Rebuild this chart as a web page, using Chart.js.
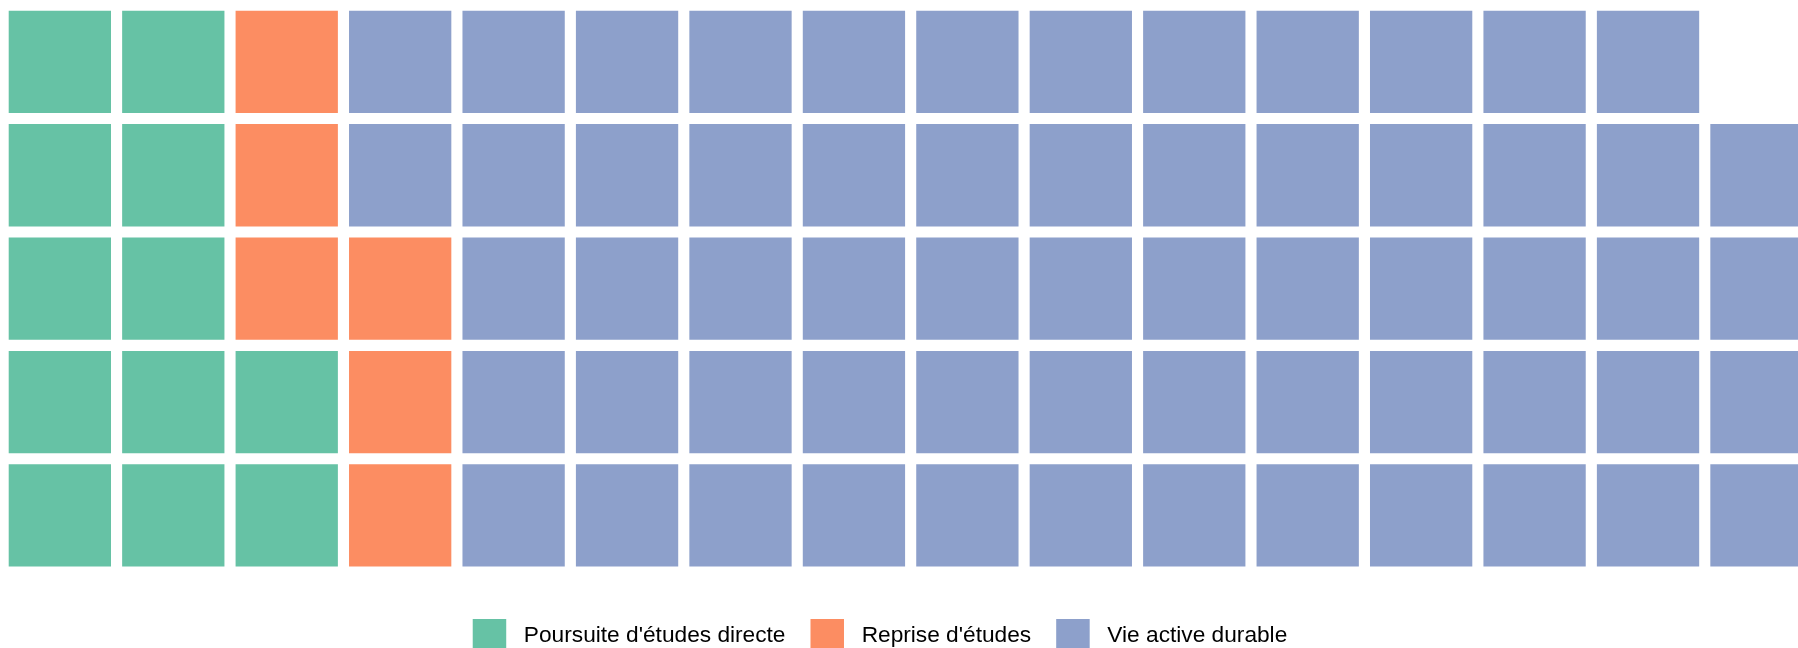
<!DOCTYPE html>
<html>
<head>
<meta charset="utf-8">
<script src="https://cdn.jsdelivr.net/npm/chart.js@4/dist/chart.umd.min.js"></script>
<style>
  body { margin: 0; background: #fff; }
  #wrap { width: 1798px; height: 648px; }
</style>
</head>
<body>
<div id="wrap"><canvas id="myChart"></canvas></div>
<script>
// categories and number of cells for each (waffle, 5 rows, filled column by column from the bottom)
var categories = ["Poursuite d'études directe", "Reprise d'études", "Vie active durable"];
var counts = [12, 6, 61];
var nRows = 5;

var colors = ['#66C2A5', '#FC8D62', '#8DA0CB'];

// build the cells: x = column, y = row from bottom
var datasets = [];
var k = 0;
categories.forEach(function(name, i) {
    var pts = [];
    for (var n = 0; n < counts[i]; n++, k++) {
        pts.push({ x: Math.floor(k / nRows), y: k % nRows });
    }
    datasets.push({
        label: name,
        data: pts,
        backgroundColor: colors[i],
        borderColor: colors[i],
        borderWidth: 0,
        pointStyle: 'rect',
        pointRadius: 72.34,
        pointHoverRadius: 72.34,
        clip: false
    });
});

// move the legend a bit left, like in the original
var shiftLegend = {
    id: 'shiftLegend',
    afterLayout: function(chart) {
        chart.legend.left -= 19;
        chart.legend.right -= 19;
    }
};

var ctx = document.getElementById('myChart').getContext('2d');
var chart = new Chart(ctx, {
    type: 'scatter',
    data: { datasets: datasets },
    plugins: [shiftLegend],
    options: {
        responsive: true,
        maintainAspectRatio: false,
        animation: false,
        events: [],
        layout: { padding: 0, autoPadding: false },
        scales: {
            x: { type: 'linear', display: false, min: -0.5276, max: 15.322 },
            y: { type: 'linear', display: false, min: -0.6927, max: 4.5454 }
        },
        plugins: {
            tooltip: { enabled: false },
            legend: {
                position: 'bottom',
                maxHeight: 54,
                labels: {
                    boxWidth: 33.5,
                    boxHeight: 33.5,
                    padding: 25,
                    color: '#000',
                    font: { family: '"Liberation Sans", Arial, sans-serif', size: 22.7 },
                    generateLabels: function(chart) {
                        return Chart.defaults.plugins.legend.labels.generateLabels(chart).map(function(l) {
                            l.text = ' ' + l.text;
                            l.lineWidth = 0;
                            return l;
                        });
                    }
                }
            }
        }
    }
});
</script>
</body>
</html>
